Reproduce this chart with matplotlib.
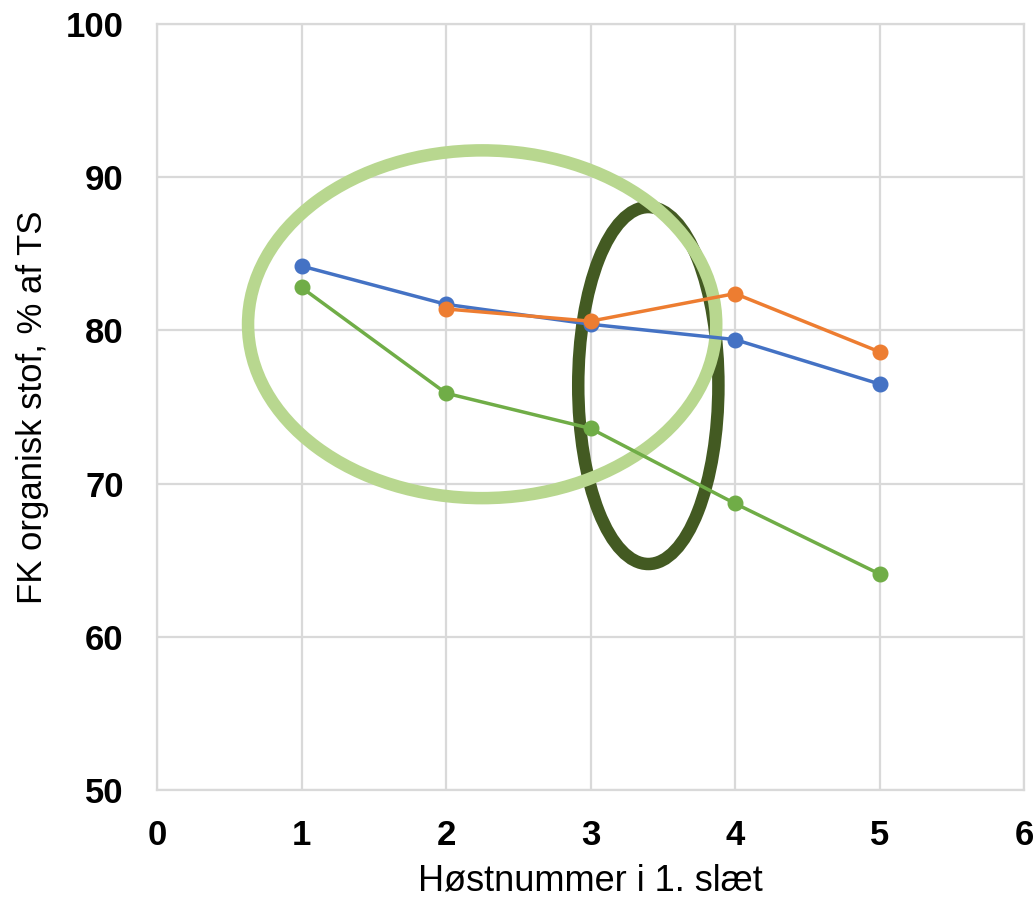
import matplotlib.pyplot as plt
from matplotlib.patches import Ellipse

plt.rcParams['font.family'] = ['Liberation Sans', 'DejaVu Sans']

# Høstnummer og FK organisk stof (% af TS)
harvest = [1, 2, 3, 4, 5]
blue_vals = [84.2, 81.7, 80.4, 79.4, 76.5]
orange_x = [2, 3, 4, 5]
orange_vals = [81.4, 80.6, 82.4, 78.6]
green_vals = [82.8, 75.9, 73.6, 68.7, 64.1]

x_ticks = [0, 1, 2, 3, 4, 5, 6]
y_ticks = [50, 60, 70, 80, 90, 100]

fig = plt.figure(figsize=(10.35, 9.05), dpi=100)
ax = fig.add_axes([0.1517, 0.1271, 0.8377, 0.8464])

# markeringer (ellipser)
ax.add_patch(Ellipse((3.40, 76.4), 0.97, 23.3, fill=False,
                     edgecolor='#435A22', linewidth=9, zorder=3))
ax.add_patch(Ellipse((2.25, 80.4), 3.24, 22.7, fill=False,
                     edgecolor='#B8D78F', linewidth=9, zorder=3))

ax.plot(harvest, blue_vals, color='#4472C4', lw=2.5, marker='o', ms=10.5, zorder=4)
ax.plot(orange_x, orange_vals, color='#ED7D31', lw=2.5, marker='o', ms=10.5, zorder=4)
ax.plot(harvest, green_vals, color='#70AD47', lw=2.5, marker='o', ms=10.5, zorder=4)

ax.set_xlim(0, 6)
ax.set_ylim(50, 100)
ax.set_xticks(x_ticks)
ax.set_yticks(y_ticks)
ax.tick_params(length=0, labelsize=25)
ax.tick_params(axis='x', pad=21)
ax.tick_params(axis='y', pad=24)
for lbl in ax.get_xticklabels() + ax.get_yticklabels():
    lbl.set_fontweight('bold')
ax.grid(True, color='#D9D9D9', linewidth=1.6)
ax.set_axisbelow(True)
for s in ax.spines.values():
    s.set_color('#D9D9D9')
    s.set_linewidth(1.6)

ax.set_xlabel('Høstnummer i 1. slæt', fontsize=26, labelpad=8)
ax.set_ylabel('FK organisk stof, % af TS', fontsize=25, labelpad=12)

fig.savefig('out.png', dpi=100)
